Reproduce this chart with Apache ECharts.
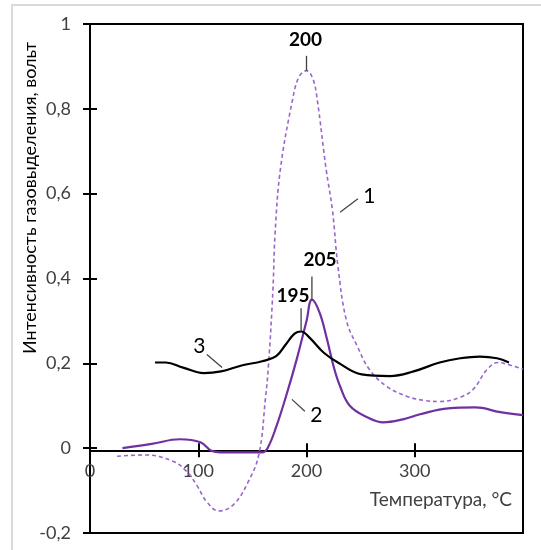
<!DOCTYPE html>
<html>
<head>
<meta charset="utf-8">
<style>
  html, body { margin: 0; padding: 0; background: #fff; }
  #chart { width: 541px; height: 550px; }
</style>
<script src="https://cdn.jsdelivr.net/npm/echarts@6/dist/echarts.min.js"></script>
</head>
<body>
<div id="chart"></div>
<script>
// Temperature axis ticks and intensity axis range
const xTicks = [0, 100, 200, 300, 400];
const yRange = [-0.2, 1];

// Curve 1 (dashed): temperature, °C and intensity, V
const temp1 = [25, 51, 76, 89, 99, 108, 119, 133, 146, 156, 162, 165, 169, 171, 176, 187, 193, 200, 206, 210, 218, 224, 229, 237, 247, 258, 274, 293, 310, 323, 342, 354, 367, 377, 385, 400];
const volt1 = [-0.019, -0.016, -0.03, -0.054, -0.089, -0.127, -0.148, -0.132, -0.08, -0.015, 0.115, 0.2, 0.374, 0.508, 0.66, 0.82, 0.875, 0.89, 0.87, 0.82, 0.66, 0.56, 0.43, 0.30, 0.24, 0.186, 0.146, 0.122, 0.112, 0.11, 0.12, 0.139, 0.186, 0.202, 0.198, 0.186];

// Curve 2 (solid purple)
const temp2 = [30, 57, 83, 102, 113, 124, 159, 164, 172, 182, 191, 200, 205, 212, 219, 225, 231, 240, 256, 271, 289, 305, 331, 356, 379, 400];
const volt2 = [0, 0.01, 0.021, 0.014, -0.007, -0.01, -0.01, 0, 0.05, 0.13, 0.21, 0.30, 0.35, 0.32, 0.256, 0.193, 0.146, 0.10, 0.073, 0.061, 0.068, 0.08, 0.094, 0.096, 0.085, 0.078];

// Curve 3 (solid black)
const temp3 = [60, 70, 86, 105, 121, 140, 159, 172, 181, 189, 195, 203, 216, 229, 251, 277, 299, 323, 342, 360, 376, 387];
const volt3 = [0.202, 0.202, 0.19, 0.177, 0.181, 0.195, 0.205, 0.217, 0.245, 0.27, 0.275, 0.26, 0.225, 0.202, 0.174, 0.17, 0.181, 0.202, 0.212, 0.216, 0.212, 0.202];

// Peak labels: text, peak temperature, peak value, label anchor [T, V], leader top V
const peakLabels = [
  { text: '200', t: 200, v: 0.89, at: [199, 0.962], top: 0.925 },
  { text: '205', t: 205, v: 0.35, at: [212.5, 0.445], top: 0.405 },
  { text: '195', t: 195, v: 0.275, at: [187.5, 0.36], top: 0.33 }
];
// Curve numbers: text, label anchor, leader start and end
const curveLabels = [
  { text: '1', at: [258, 0.595], from: [231, 0.556], to: [247.5, 0.588] },
  { text: '2', at: [209, 0.078], from: [186.5, 0.115], to: [198.5, 0.087] },
  { text: '3', at: [101, 0.24], from: [108, 0.221], to: [122, 0.19] }
];

const zip = (a, b) => a.map((x, i) => [x, b[i]]);
const FONT = 'Lato, "Open Sans", sans-serif';
const fmtY = v => String(Math.round(v * 10) / 10).replace('.', ',');

const chart = echarts.init(document.getElementById('chart'), null, { renderer: 'canvas' });

const baseX = {
  type: 'value', position: 'bottom', min: xTicks[0], max: xTicks[xTicks.length - 1], interval: 100,
  splitLine: { show: false }
};
const baseY = {
  type: 'value', position: 'left', min: yRange[0], max: yRange[1], interval: 0.2,
  splitLine: { show: false }
};

chart.setOption({
  backgroundColor: '#fff',
  animation: false,
  grid: { left: 90, right: 18, top: 24, bottom: 17, show: true, borderColor: '#000', borderWidth: 2 },
  xAxis: [
    Object.assign({}, baseX, {
      axisLine: { onZero: false, lineStyle: { color: '#000', width: 2 } },
      axisTick: { show: true, inside: false, length: 7, lineStyle: { color: '#000', width: 2 } },
      axisLabel: {
        color: '#404040', fontFamily: FONT, fontSize: 18, margin: 12,
        formatter: v => (v >= 400 ? '' : String(v))
      }
    }),
    Object.assign({}, baseX, {
      axisLine: { onZero: false, lineStyle: { color: '#000', width: 2 } },
      axisTick: { show: true, inside: true, length: 7, lineStyle: { color: '#000', width: 2 } },
      axisLabel: { show: false }
    })
  ],
  yAxis: [
    Object.assign({}, baseY, {
      axisLine: { show: true, onZero: false, lineStyle: { color: '#000', width: 2 } },
      axisTick: { show: true, inside: false, length: 7, lineStyle: { color: '#000', width: 2 } },
      axisLabel: { color: '#404040', fontFamily: FONT, fontSize: 18, margin: 19, formatter: fmtY }
    }),
    Object.assign({}, baseY, {
      axisLine: { show: false, onZero: false },
      axisTick: { show: true, inside: true, length: 7, lineStyle: { color: '#000', width: 2 } },
      axisLabel: { show: false }
    })
  ],
  series: [
    {
      name: '1', type: 'line', data: zip(temp1, volt1), smooth: 0.4,
      showSymbol: false, xAxisIndex: 0, yAxisIndex: 0,
      lineStyle: { color: '#9966cc', width: 1.6, type: [4, 3] }
    },
    {
      name: '2', type: 'line', data: zip(temp2, volt2), smooth: 0.4,
      showSymbol: false, xAxisIndex: 0, yAxisIndex: 0,
      lineStyle: { color: '#7030a0', width: 2.2 }
    },
    {
      name: '3', type: 'line', data: zip(temp3, volt3), smooth: 0.4,
      showSymbol: false, xAxisIndex: 0, yAxisIndex: 0,
      lineStyle: { color: '#000', width: 2.2 }
    }
  ]
});

// Move the temperature axes up so they cross the intensity axis at 0
const yZero = chart.convertToPixel({ yAxisIndex: 0 }, 0);
const yMin = chart.convertToPixel({ yAxisIndex: 0 }, yRange[0]);
const lift = -(yMin - yZero);
chart.setOption({ xAxis: [{ offset: lift }, { offset: lift }] });

// Annotations placed through the chart's own coordinate conversion
function px(p) { return chart.convertToPixel({ gridIndex: 0 }, p); }
const graphics = [];

graphics.push({
  type: 'rect', shape: { x: 12, y: 5, width: 620, height: 620 },
  style: { fill: 'none', stroke: '#d9d9d9', lineWidth: 2 }, z: -1, silent: true
});

peakLabels.forEach(p => {
  const a = px([p.t, p.top]), b = px([p.t, p.v]), c = px(p.at);
  graphics.push({ type: 'line', shape: { x1: a[0], y1: a[1], x2: b[0], y2: b[1] },
    style: { stroke: '#404040', lineWidth: 1.3 }, z: 10 });
  graphics.push({ type: 'text', x: c[0], y: c[1], z: 10,
    style: { text: p.text, fill: '#000', font: 'bold 19px ' + FONT, align: 'center', verticalAlign: 'middle' } });
});

curveLabels.forEach(p => {
  const a = px(p.from), b = px(p.to), c = px(p.at);
  graphics.push({ type: 'line', shape: { x1: a[0], y1: a[1], x2: b[0], y2: b[1] },
    style: { stroke: '#404040', lineWidth: 1.2 }, z: 10 });
  graphics.push({ type: 'text', x: c[0], y: c[1], z: 10,
    style: { text: p.text, fill: '#000', font: '21px ' + FONT, align: 'center', verticalAlign: 'middle' } });
});

// Axis titles
graphics.push({
  type: 'text', x: 30, y: 198, rotation: Math.PI / 2, z: 10,
  style: { text: 'Интенсивность газовыделения, вольт', fill: '#000', font: '18px ' + FONT,
    align: 'center', verticalAlign: 'middle' }
});
graphics.push({
  type: 'text', x: 512, y: 500, z: 10,
  style: { text: 'Температура, °C', fill: '#404040', font: '19px ' + FONT,
    align: 'right', verticalAlign: 'middle' }
});

chart.setOption({ graphic: graphics });
</script>
</body>
</html>
